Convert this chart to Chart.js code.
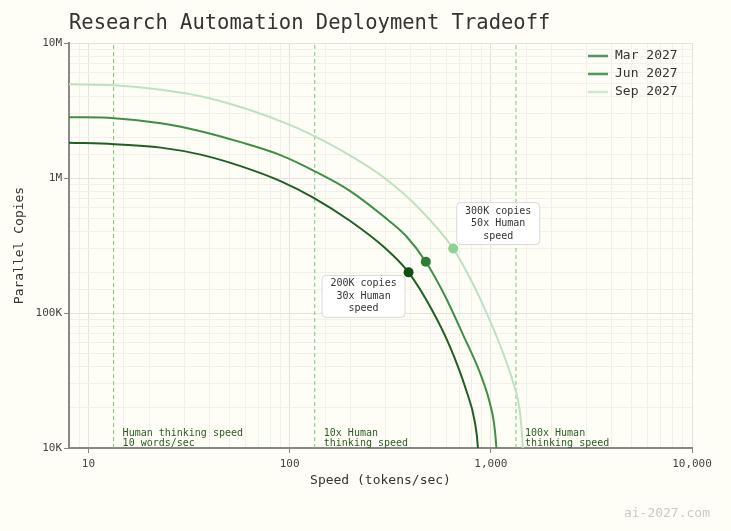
<!DOCTYPE html>
<html>
<head>
<meta charset="utf-8">
<script src="https://cdn.jsdelivr.net/npm/chart.js@4.4.1/dist/chart.umd.min.js"></script>
<style>
  html, body { margin: 0; padding: 0; background: #fffef6; }
  canvas { display: block; }
</style>
</head>
<body>
<canvas id="myChart" width="731" height="531"></canvas>
<script>
const seriesLabels = ['Mar 2027', 'Jun 2027', 'Sep 2027'];

const marSpeed  = [8, 13.4, 22.9, 36.1, 57.0, 90.0, 131, 200, 298, 390, 510, 627, 753, 834, 863, 873];
const marCopies = [1827000, 1781000, 1679000, 1490000, 1225000, 949000, 716000, 480000, 303000, 200000, 105400, 56200, 27000, 15400, 10000, 6900];

const junSpeed  = [8, 13.4, 22.9, 36.1, 57.0, 90.0, 132.7, 200, 291.7, 379, 475, 592, 728, 883, 979, 1036, 1066, 1078];
const junCopies = [2822000, 2774000, 2548000, 2223000, 1843000, 1477000, 1125000, 800000, 522600, 371900, 240000, 133800, 68900, 36100, 22800, 15400, 10000, 6900];

const sepSpeed  = [8, 13.4, 22.9, 36.1, 63.9, 100.9, 132.7, 200, 291.7, 445, 650, 806, 957, 1135, 1287, 1394, 1443, 1459];
const sepCopies = [4950000, 4865000, 4506000, 4035000, 3178000, 2463000, 2041000, 1465000, 1016000, 585000, 300000, 169800, 98500, 53300, 30900, 18560, 10000, 6900];

// highlighted points
const markSpeed  = [390, 475, 650];
const markCopies = [200000, 240000, 300000];

// reference speeds (human thinking speed multiples)
const refSpeeds = [13.33, 133.3, 1333];
const refLabels = [['Human thinking speed', '10 words/sec'], ['10x Human', 'thinking speed'], ['100x Human', 'thinking speed']];

const calloutIndex = [2, 0];
const calloutText = [['300K copies', '50x Human', 'speed'], ['200K copies', '30x Human', 'speed']];

const xTickLabels = { 10: '10', 100: '100', 1000: '1,000', 10000: '10,000' };
const yTickLabels = { 10000: '10K', 100000: '100K', 1000000: '1M', 10000000: '10M' };

const lineColors = ['#1f5f24', '#3e8e46', '#c0e1bf'];
const dotColors = ['#0e4f14', '#2e7d32', '#90d093'];
const legendColors = ['#5f8f62', '#4d9a53', '#cfe7cd'];
const FONT = "'DejaVu Sans Mono', monospace";

const curves = [[marSpeed, marCopies], [junSpeed, junCopies], [sepSpeed, sepCopies]];

const datasets = [];
markSpeed.forEach((s, i) => {
    datasets.push({
        label: 'mark' + i,
        data: [{ x: s, y: markCopies[i] }],
        showLine: false,
        pointRadius: 5,
        pointBackgroundColor: dotColors[i],
        pointBorderWidth: 0,
        order: 0
    });
});
curves.forEach(([sp, cp], i) => {
    datasets.push({
        label: seriesLabels[i],
        data: sp.map((s, j) => ({ x: s, y: cp[j] })),
        borderColor: lineColors[i],
        borderWidth: 2,
        pointRadius: 0,
        cubicInterpolationMode: 'monotone',
        fill: false,
        order: 1
    });
});
refSpeeds.forEach((s, i) => {
    datasets.push({
        label: 'ref' + i,
        data: [{ x: s, y: 10000 }, { x: s, y: 10000000 }],
        borderColor: '#77c877',
        borderWidth: 1,
        borderDash: [4, 3],
        pointRadius: 0,
        order: 2
    });
});

const isMajor = v => Math.abs(Math.log10(v) - Math.round(Math.log10(v))) < 1e-6;

const overlay = {
    id: 'overlay',
    afterDatasetsDraw(chart) {
        const { ctx, chartArea, scales: { x, y } } = chart;
        ctx.save();
        // labels next to the dashed reference lines
        ctx.font = '10px ' + FONT;
        ctx.fillStyle = '#2d5a27';
        ctx.textAlign = 'left';
        ctx.textBaseline = 'middle';
        refSpeeds.forEach((s, i) => {
            const px = x.getPixelForValue(s) + 9;
            ctx.fillText(refLabels[i][0], px, chartArea.bottom - 15);
            ctx.fillText(refLabels[i][1], px, chartArea.bottom - 4.5);
        });
        // callout boxes
        const offsets = [[45, -25], [-45, 24]];
        calloutIndex.forEach((mi, k) => {
            const cx = x.getPixelForValue(markSpeed[mi]) + offsets[k][0];
            const cy = y.getPixelForValue(markCopies[mi]) + offsets[k][1];
            const w = 83, h = 42;
            ctx.beginPath();
            ctx.roundRect(cx - w / 2, cy - h / 2, w, h, 4);
            ctx.fillStyle = '#ffffff';
            ctx.fill();
            ctx.strokeStyle = '#d8d8d8';
            ctx.lineWidth = 1;
            ctx.stroke();
            ctx.fillStyle = '#333';
            ctx.textAlign = 'center';
            calloutText[k].forEach((t, j) => ctx.fillText(t, cx, cy + (j - 1) * 12.5));
        });
        ctx.restore();
    },
    afterDraw(chart) {
        const { ctx, chartArea } = chart;
        ctx.save();
        // title
        ctx.font = '20.5px ' + FONT;
        ctx.fillStyle = '#333';
        ctx.textAlign = 'left';
        ctx.textBaseline = 'middle';
        ctx.fillText('Research Automation Deployment Tradeoff', chartArea.left, 23.5);
        // legend
        ctx.font = '13px ' + FONT;
        seriesLabels.forEach((lab, i) => {
            const ly = chartArea.top + 13 + i * 18;
            const lx = chartArea.right - 104;
            ctx.strokeStyle = legendColors[i];
            ctx.lineWidth = 2.5;
            ctx.beginPath();
            ctx.moveTo(lx, ly);
            ctx.lineTo(lx + 20, ly);
            ctx.stroke();
            ctx.fillStyle = '#333';
            ctx.fillText(lab, lx + 27, ly);
        });
        // watermark
        ctx.font = '13px ' + FONT;
        ctx.fillStyle = '#c9c9c9';
        ctx.textAlign = 'right';
        ctx.fillText('ai-2027.com', 710, 514);
        ctx.restore();
    }
};

const gridColor = c => (c.tick && isMajor(c.tick.value)) ? '#e3e3dc' : '#f1f1ea';
const tickColor = c => (c.tick && isMajor(c.tick.value)) ? '#888' : 'rgba(0,0,0,0)';

const ctx = document.getElementById('myChart').getContext('2d');
const myChart = new Chart(ctx, {
    type: 'line',
    data: { datasets: datasets },
    options: {
        responsive: false,
        animation: false,
        layout: { padding: { top: 43, right: 39, left: 0, bottom: 0 } },
        plugins: {
            legend: { display: false },
            tooltip: { enabled: false }
        },
        scales: {
            x: {
                type: 'logarithmic',
                min: 8,
                max: 10000,
                afterFit: s => { s.height = 83; },
                border: { color: '#888', width: 2 },
                grid: { color: gridColor, tickColor: tickColor, tickLength: 5 },
                ticks: {
                    autoSkip: false,
                    maxRotation: 0,
                    padding: 5,
                    color: '#444',
                    font: { family: FONT, size: 11 },
                    callback: v => xTickLabels[Math.round(v)] && isMajor(v) ? xTickLabels[Math.round(v)] : ''
                },
                title: {
                    display: true,
                    text: 'Speed (tokens/sec)',
                    color: '#333',
                    font: { family: FONT, size: 13 },
                    padding: { top: 0, bottom: 43 }
                }
            },
            y: {
                type: 'logarithmic',
                min: 10000,
                max: 10000000,
                afterFit: s => { s.width = 69; },
                border: { color: '#888', width: 2 },
                grid: { color: gridColor, tickColor: tickColor, tickLength: 5 },
                ticks: {
                    autoSkip: false,
                    padding: 2,
                    color: '#444',
                    font: { family: FONT, size: 11 },
                    callback: v => yTickLabels[Math.round(v)] && isMajor(v) ? yTickLabels[Math.round(v)] : ''
                },
                title: {
                    display: true,
                    text: 'Parallel Copies',
                    color: '#333',
                    font: { family: FONT, size: 13 },
                    padding: { top: 12, bottom: 0 }
                }
            }
        }
    },
    plugins: [overlay]
});
</script>
</body>
</html>
